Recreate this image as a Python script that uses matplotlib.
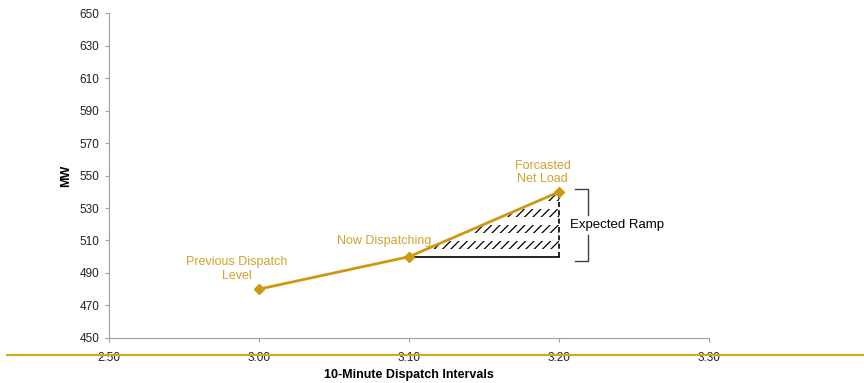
import numpy as np
import matplotlib.pyplot as plt
from matplotlib.lines import Line2D

plt.rcParams['font.family'] = ['Liberation Sans', 'DejaVu Sans']
plt.rcParams['hatch.linewidth'] = 0.9

# dispatch points, minutes after 2:50
minutes = [10, 20, 30]
mw = [480, 500, 540]
point_labels = ['Previous Dispatch\nLevel', 'Now Dispatching', 'Forcasted\nNet Load']

tick_minutes = [0, 10, 20, 30, 40]
tick_labels = ['2:50', '3:00', '3:10', '3:20', '3:30']
y_ticks = list(range(450, 651, 20))

gold = '#CC9A12'
gold_text = '#D3A22A'

fig = plt.figure(figsize=(8.64, 3.83), dpi=100)
ax = fig.add_axes([0.126, 0.118, 0.695, 0.847])

# expected ramp area: hatched rows between the forecast line and the current level
ramp_x = np.array([minutes[1], minutes[2]])
ramp_top = np.array([mw[1], mw[2]])
ax.fill_between(ramp_x, mw[1], ramp_top, facecolor='none',
                edgecolor='black', hatch='////', linewidth=0, zorder=1)
# white gaps between the hatched rows (rows are 5 MW tall every 10 MW)
for lo in np.arange(mw[1] - 0.5, mw[2], 10):
    ax.axhspan(lo, lo + 5, xmin=0.49, xmax=0.76, color='white',
               lw=0, zorder=1.5)
ax.plot(ramp_x, [mw[1], mw[1]], color='black', lw=1.2, zorder=2)
ax.plot([minutes[2], minutes[2]], [mw[1], mw[2]], color='black', lw=1.2,
        ls=(0, (3, 2)), zorder=2)

ax.plot(minutes, mw, color=gold, lw=2, marker='D', ms=5, zorder=3)

ax.text(minutes[0] - 1.5, mw[0] + 4.5, point_labels[0], color=gold_text,
        fontsize=9, ha='center', va='bottom', linespacing=1.15)
ax.text(minutes[1] + 1.5, mw[1] + 6, point_labels[1], color=gold_text,
        fontsize=9, ha='right', va='bottom')
ax.text(minutes[2] - 1.1, mw[2] + 4, point_labels[2], color=gold_text,
        fontsize=9, ha='center', va='bottom', linespacing=1.15)

# bracket for the expected ramp
bx0, bx1 = 31.05, 31.95
b_top, b_bot = 542, 497.5
bracket_color = '#404040'
ax.plot([bx0, bx1, bx1], [b_top, b_top, 526], color=bracket_color, lw=1,
        clip_on=False)
ax.plot([bx1, bx1, bx0], [513.5, b_bot, b_bot], color=bracket_color, lw=1,
        clip_on=False)
ax.text(30.75, 519.5, 'Expected Ramp', fontsize=9.5, ha='left', va='center',
        color='black')

ax.set_xlim(0, 40)
ax.set_ylim(450, 650)
ax.set_xticks(tick_minutes)
ax.set_xticklabels(tick_labels)
ax.set_yticks(y_ticks)
ax.tick_params(axis='x', direction='out', length=3, color='#a0a0a0',
               labelsize=8.5, labelcolor='#222222', pad=7)
ax.tick_params(axis='y', direction='out', length=3, color='#a0a0a0',
               labelsize=8.5, labelcolor='#222222', pad=4)
for side in ['top', 'right']:
    ax.spines[side].set_visible(False)
for side in ['left', 'bottom']:
    ax.spines[side].set_color('#a0a0a0')

ax.set_ylabel('MW', fontsize=9, fontweight='bold', labelpad=5)
ax.set_xlabel('10-Minute Dispatch Intervals', fontsize=9, fontweight='bold',
              labelpad=4)

# gold rule across the slide
fig.add_artist(Line2D([0.008, 1.0], [0.073, 0.073], color='#D9A521', lw=1.5,
                      transform=fig.transFigure))

fig.savefig('out.png', dpi=100)
